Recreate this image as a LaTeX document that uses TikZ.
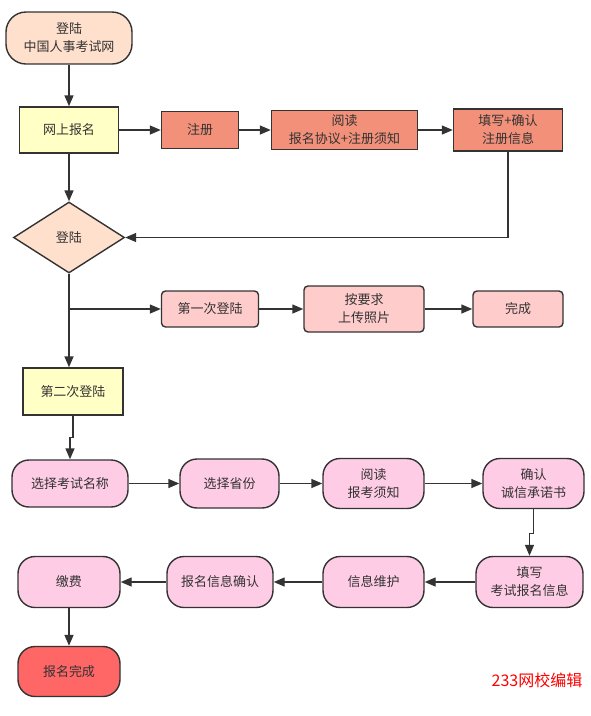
\documentclass[tikz,border=0pt]{standalone}
\usepackage{fontspec}
\setmainfont{Noto Sans CJK SC}
\usetikzlibrary{shapes,arrows.meta,positioning,calc}
\definecolor{lineC}{HTML}{333333}
\definecolor{peachC}{HTML}{FFE0CC}
\definecolor{yellowC}{HTML}{FFFFC6}
\definecolor{salmonC}{HTML}{F3907A}
\definecolor{pinkC}{HTML}{FFCCCC}
\definecolor{roseC}{HTML}{FFCCE6}
\definecolor{redC}{HTML}{FF6666}

\begin{document}
\begin{tikzpicture}[x=1pt,y=1pt, on grid, line width=1.4pt,
  every node/.style={font=\fontsize{13}{18}\selectfont, text=lineC, align=center, inner sep=0pt},
  box/.style={draw=lineC, line width=1.4pt, rectangle},
  startbox/.style={box, fill=peachC, rounded corners=20pt, minimum width=126pt, minimum height=52pt},
  ybox/.style={box, fill=yellowC},
  sbox/.style={box, fill=salmonC},
  pbox/.style={box, fill=pinkC, rounded corners=4pt},
  rbox/.style={box, fill=roseC, rounded corners=17pt, minimum width=101pt, minimum height=50pt},
  decision/.style={draw=lineC, line width=1.4pt, diamond, fill=peachC, aspect=1.56, minimum width=111pt, minimum height=71pt},
  ->, >={Triangle[length=11pt,width=9pt]}, draw=lineC]
  \useasboundingbox (0,0) rectangle (590,-716);

  % top row: registration
  \node[startbox] (start) at (69,-38) {登陆\\中国人事考试网};
  \node[ybox, minimum width=99pt, minimum height=46pt] (ws) [below=92pt of start] {网上报名};
  \node[sbox, minimum width=77pt, minimum height=37pt] (zc) [right=131pt of ws] {注册};
  \node[sbox, minimum width=146pt, minimum height=39pt] (yd) [right=144.5pt of zc] {阅读\\报名协议+注册须知};
  \node[sbox, minimum width=109pt, minimum height=42pt] (tx) [right=163.5pt of yd] {填写+确认\\注册信息};

  % login
  \node[decision] (dl) [below=107.5pt of ws] {登陆};
  \node[pbox, minimum width=97pt, minimum height=36pt] (fl) [below right=71.5pt and 141pt of dl] {第一次登陆};
  \node[pbox, minimum width=120pt, minimum height=46pt] (yq) [right=154pt of fl] {按要求\\上传照片};
  \node[pbox, minimum width=90pt, minimum height=36pt] (wc) [right=154pt of yq] {完成};
  \node[ybox, minimum width=100pt, minimum height=47pt] (ec) [below right=154pt and 4pt of dl] {第二次登陆};

  % exam registration
  \node[rbox, minimum width=116pt, minimum height=47pt] (xk) [below left=92pt and 3pt of ec] {选择考试名称};
  \node[rbox, minimum width=99pt, minimum height=49pt] (sf) [right=159.5pt of xk] {选择省份};
  \node[rbox] (bk) [right=144pt of sf] {阅读\\报考须知};
  \node[rbox] (cx) [right=160pt of bk] {确认\\诚信承诺书};
  \node[rbox, minimum width=107pt, minimum height=51pt] (kx) [below left=98.5pt and 4pt of cx] {填写\\考试报名信息};
  \node[rbox, minimum height=51pt] (wh) [left=156pt of kx] {信息维护};
  \node[rbox, minimum width=106pt, minimum height=51pt] (qr) [left=153.5pt of wh] {报名信息确认};
  \node[rbox, minimum width=102pt, minimum height=51pt] (jf) [left=151pt of qr] {缴费};
  \node[rbox, fill=redC, minimum width=102pt, minimum height=50pt] (wcm) [below=89.5pt of jf] {报名完成};

  \node[text=red, font=\fontsize{16}{18}\selectfont] (mark) at (537,-680) {233网校编辑};

  % arrows
  \path[->]
    (start) edge (ws)
    (ws) edge (zc)
    (zc) edge (yd)
    (yd) edge (tx)
    (ws) edge (dl)
    (fl) edge (yq)
    (yq) edge (wc)
    (xk) edge (sf)
    (sf) edge (bk)
    (bk) edge (cx)
    (kx) edge (wh)
    (wh) edge (qr)
    (qr) edge (jf)
    (jf) edge (wcm);
  \draw[->] (tx.south) |- (dl.east);
  \draw[->] (dl.south) -- (dl.south |- ec.north);
  \draw[->] (dl.south |- fl.west) -- (fl.west);
  \draw[->] (ec.south) -- ++(0,-22) -| (xk.north);
  \draw[->] (cx.south) -- ++(0,-24) -| (kx.north);
\end{tikzpicture}
\end{document}
